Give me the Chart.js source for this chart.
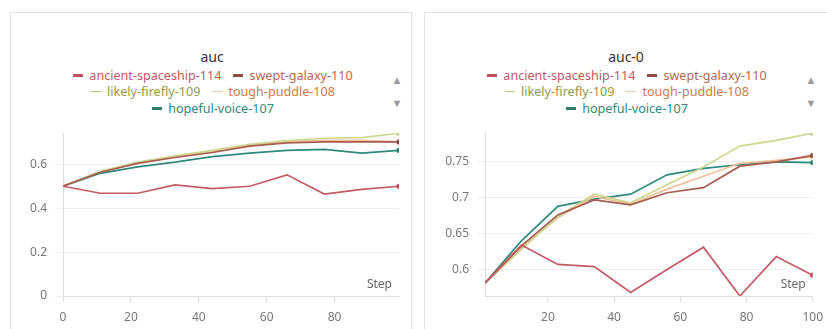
<!DOCTYPE html>
<html>
<head>
<meta charset="utf-8">
<script src="https://cdn.jsdelivr.net/npm/chart.js@4.4.1/dist/chart.umd.min.js"></script>
<style>
html, body { margin: 0; padding: 0; background: #fff; overflow: hidden; width: 827px; height: 329px; }
body { position: relative; font-family: "Noto Sans", "Open Sans", sans-serif; }
.panel { position: absolute; top: 12px; height: 340px; border: 1px solid #e4e4e4; box-sizing: border-box; background: #fff; overflow: hidden; }
#panel-auc { left: 10px; width: 402px; }
#panel-auc0 { left: 424px; width: 408px; }
.title { position: absolute; top: 34px; left: 0; width: 402px; text-align: center; font-size: 14px; line-height: 19px; color: #333; }
.legend { position: absolute; top: 55px; left: 46px; width: 312px; display: flex; flex-wrap: wrap; justify-content: center; font-size: 12.6px; line-height: 16.3px; }
.legend .item { margin: 0 6px; white-space: nowrap; }
.legend .mark { display: inline-block; width: 10px; vertical-align: middle; margin-right: 6px; position: relative; top: -1px; }
.arrow { position: absolute; left: 379px; width: 14px; text-align: center; color: #999; font-size: 11px; line-height: 12px; }
.up { top: 61px; }
.down { top: 84px; }
.plot { position: absolute; left: 0; top: 105px; height: 212px; }
</style>
</head>
<body>

<div class="panel" id="panel-auc">
  <div class="title">auc</div>
  <div class="legend" id="legend-auc"></div>
  <div class="arrow up">&#9650;</div>
  <div class="arrow down">&#9660;</div>
  <div class="plot" style="width:400px"><canvas id="chart-auc"></canvas></div>
</div>

<div class="panel" id="panel-auc0">
  <div class="title">auc-0</div>
  <div class="legend" id="legend-auc0"></div>
  <div class="arrow up">&#9650;</div>
  <div class="arrow down">&#9660;</div>
  <div class="plot" style="width:406px"><canvas id="chart-auc0"></canvas></div>
</div>

<script>
// runs
const runNames = ['ancient-spaceship-114', 'swept-galaxy-110', 'likely-firefly-109', 'tough-puddle-108', 'hopeful-voice-107'];
const lineColors = ['#c65a64', '#a65c50', '#cfd68e', '#efc19a', '#2f897c'];
const textColors = ['#c4566a', '#b5674f', '#8e9a4e', '#cf7c42', '#2c897d'];
const markColors = ['#c0505e', '#8e4c40', '#bcc67e', '#f2c9a8', '#2f7d72'];
const markWidths = [3, 3, 1.5, 1.5, 3];

// auc
const aucSteps = [0, 11, 22, 33, 44, 55, 66, 77, 88, 99];
const aucAncient = [0.501, 0.469, 0.469, 0.507, 0.490, 0.501, 0.553, 0.465, 0.487, 0.501];
const aucSwept   = [0.501, 0.565, 0.605, 0.632, 0.655, 0.684, 0.699, 0.703, 0.703, 0.703];
const aucLikely  = [0.501, 0.569, 0.611, 0.640, 0.665, 0.692, 0.709, 0.720, 0.723, 0.743];
const aucTough   = [0.501, 0.567, 0.608, 0.636, 0.660, 0.688, 0.704, 0.710, 0.710, 0.704];
const aucHopeful = [0.501, 0.560, 0.589, 0.611, 0.636, 0.652, 0.665, 0.669, 0.652, 0.665];

// auc-0
const auc0Steps = [1, 12, 23, 34, 45, 56, 67, 78, 89, 100];
const auc0Ancient = [0.581, 0.634, 0.607, 0.604, 0.568, 0.600, 0.631, 0.563, 0.618, 0.592];
const auc0Swept   = [0.581, 0.633, 0.676, 0.697, 0.690, 0.707, 0.714, 0.744, 0.750, 0.759];
const auc0Likely  = [0.581, 0.628, 0.674, 0.705, 0.693, 0.718, 0.743, 0.772, 0.780, 0.790];
const auc0Tough   = [0.581, 0.630, 0.672, 0.702, 0.691, 0.712, 0.730, 0.748, 0.752, 0.757];
const auc0Hopeful = [0.581, 0.640, 0.688, 0.698, 0.705, 0.732, 0.741, 0.746, 0.750, 0.749];

function buildLegend(id) {
    var box = document.getElementById(id);
    runNames.forEach(function (name, i) {
        var item = document.createElement('span');
        item.className = 'item';
        item.style.color = textColors[i];
        item.innerHTML = '<span class="mark" style="border-top:' + markWidths[i] + 'px solid ' + markColors[i] + '"></span>' + name;
        box.appendChild(item);
    });
}

// "Step" in the lower right corner of the plot
const stepLabel = {
    id: 'stepLabel',
    afterDraw: function (chart) {
        var c = chart.ctx, a = chart.chartArea;
        c.save();
        c.font = '12px "Noto Sans", sans-serif';
        c.fillStyle = '#666';
        c.textAlign = 'right';
        c.textBaseline = 'middle';
        c.fillText('Step', a.right - 7, a.bottom - 11);
        c.restore();
    }
};

function renderPanel(canvasId, steps, runs, xMin, xMax, yStep, axisWidth, padRight) {
    var all = [].concat.apply([], runs);
    var datasets = runs.map(function (vals, i) {
        return {
            label: runNames[i],
            data: vals.map(function (v, j) { return { x: steps[j], y: v }; }),
            borderColor: lineColors[i],
            backgroundColor: lineColors[i],
            borderWidth: 1.7,
            tension: 0,
            pointRadius: function (ctx) { return ctx.dataIndex === steps.length - 1 ? 2.6 : 0; },
            pointBackgroundColor: markColors[i],
            pointBorderWidth: 0,
        };
    });
    new Chart(document.getElementById(canvasId), {
        type: 'line',
        data: { datasets: datasets },
        plugins: [stepLabel],
        options: {
            responsive: true,
            maintainAspectRatio: false,
            animation: false,
            layout: { padding: { top: 9, right: padRight, bottom: 0, left: 0 } },
            plugins: { legend: { display: false }, tooltip: { enabled: false } },
            scales: {
                x: {
                    type: 'linear',
                    min: xMin,
                    max: xMax,
                    afterFit: function (scale) { scale.height = 34; },
                    grid: { drawOnChartArea: false, color: '#dedede', tickLength: 6 },
                    border: { color: '#dedede' },
                    ticks: {
                        stepSize: 20,
                        includeBounds: false,
                        padding: 8,
                        color: '#777',
                        maxRotation: 0,
                        font: { family: '"Noto Sans", sans-serif', size: 12 },
                    },
                },
                y: {
                    min: Math.min.apply(null, all) < 0.55 ? 0 : Math.min.apply(null, all),
                    max: Math.max.apply(null, all),
                    afterFit: function (scale) { scale.width = axisWidth; },
                    grid: { color: '#efefef', tickLength: 8 },
                    border: { color: '#dedede' },
                    ticks: {
                        stepSize: yStep,
                        includeBounds: false,
                        padding: 8,
                        color: '#777',
                        font: { family: '"Noto Sans", sans-serif', size: 12 },
                        callback: function (value) { return String(+value.toFixed(3)); },
                    },
                },
            },
        },
    });
}

buildLegend('legend-auc');
buildLegend('legend-auc0');

renderPanel('chart-auc', aucSteps,
    [aucAncient, aucSwept, aucLikely, aucTough, aucHopeful], 0, 99, 0.2, 52, 12);
renderPanel('chart-auc0', auc0Steps,
    [auc0Ancient, auc0Swept, auc0Likely, auc0Tough, auc0Hopeful], 1, 100, 0.05, 60, 11);
</script>
</body>
</html>
